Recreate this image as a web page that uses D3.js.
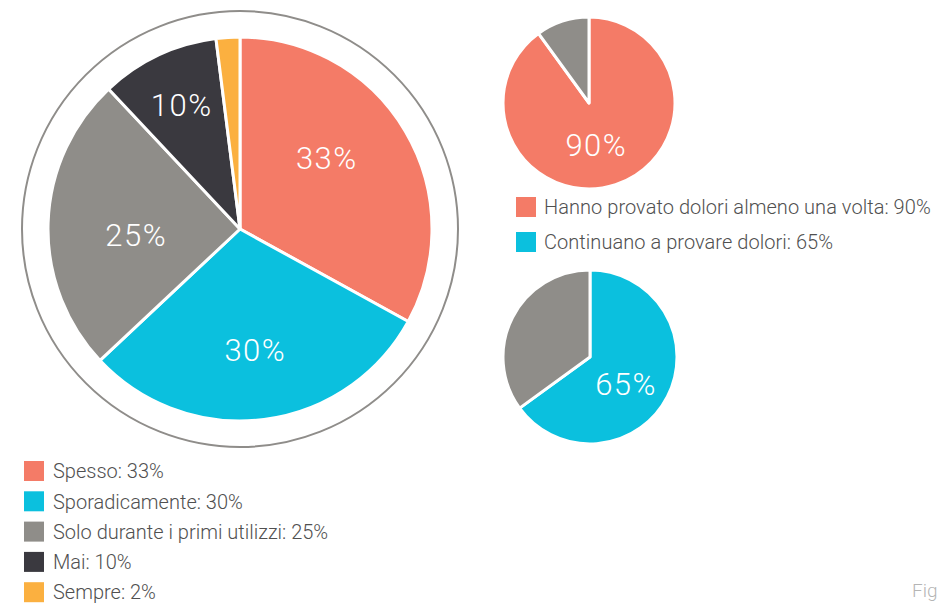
<!DOCTYPE html>
<html>
<head>
<meta charset="utf-8">
<script src="https://cdn.jsdelivr.net/npm/d3@7"></script>
<style>
  body { margin: 0; background: #fff; }
  svg { display: block; font-family: Roboto, "Liberation Sans", sans-serif; font-weight: 300; }
</style>
</head>
<body>
<div id="chart"></div>
<script>
// frequenza dei dolori
const freqCategories = ["Spesso", "Sporadicamente", "Solo durante i primi utilizzi", "Mai", "Sempre"];
const freqValues = [33, 30, 25, 10, 2];
const freqColors = ["#f47b67", "#0bc0de", "#8f8d89", "#3a393f", "#fbb040"];

// piccoli grafici
const everValues = [90, 10];
const stillValues = [65, 35];
const smallCategories = ["Hanno provato dolori almeno una volta", "Continuano a provare dolori"];
const smallColors = ["#f47b67", "#0bc0de", "#8f8d89"];

const width = 939, height = 604;

const svg = d3.select("#chart").append("svg")
	.attr("width", width)
	.attr("height", height);

const pie = d3.pie().sort(null).value(d => d);

// ---- big pie ----
const big = { cx: 240, cy: 229, r: 192, ring: 218 };
const gBig = svg.append("g").attr("transform", "translate(" + big.cx + "," + big.cy + ")");

gBig.append("circle")
	.attr("r", big.ring)
	.attr("fill", "none")
	.attr("stroke", "#8f8d8a")
	.attr("stroke-width", 2);

const bigArc = d3.arc().innerRadius(0).outerRadius(big.r);
const bigArcs = pie(freqValues);

gBig.selectAll("path.slice")
	.data(bigArcs)
	.enter().append("path")
	.attr("class", "slice")
	.attr("d", bigArc)
	.attr("fill", (d, i) => freqColors[i])
	.attr("stroke", "#fff")
	.attr("stroke-width", 3)
	.attr("stroke-linejoin", "round");

// label placement is hand tuned in the original, so nudge a bit per slice
const labelR = [112, 122, 104, 137];
const labelTurn = [-0.15, 0, -0.085, 0];
function labelAngle(d, i) { return (d.startAngle + d.endAngle) / 2 + labelTurn[i]; }

gBig.selectAll("text.lbl")
	.data(bigArcs.filter(d => d.value >= 5))
	.enter().append("text")
	.attr("class", "lbl")
	.attr("x", (d, i) => Math.sin(labelAngle(d, i)) * labelR[i])
	.attr("y", (d, i) => -Math.cos(labelAngle(d, i)) * labelR[i])
	.attr("dy", "0.36em")
	.attr("text-anchor", "middle")
	.attr("fill", "#fff")
	.attr("font-size", 31)
	.attr("letter-spacing", 1.5)
	.text(d => d.value + "%");

// ---- small pies ----
function smallPie(values, colors, cx, cy, r, lr, turn) {
	const g = svg.append("g").attr("transform", "translate(" + cx + "," + cy + ")");
	const arcs = pie(values);
	const arc = d3.arc().innerRadius(0).outerRadius(r);
	g.selectAll("path")
		.data(arcs)
		.enter().append("path")
		.attr("d", arc)
		.attr("fill", (d, i) => colors[i])
		.attr("stroke", "#fff")
		.attr("stroke-width", 3)
		.attr("stroke-linejoin", "round");
	const a = (arcs[0].startAngle + arcs[0].endAngle) / 2 + turn;
	g.append("text")
		.attr("x", Math.sin(a) * lr)
		.attr("y", -Math.cos(a) * lr)
		.attr("dy", "0.36em")
		.attr("text-anchor", "middle")
		.attr("fill", "#fff")
		.attr("font-size", 31)
		.attr("letter-spacing", 1.5)
		.text(values[0] + "%");
}

smallPie(everValues, [smallColors[0], smallColors[2]], 589, 103, 86, 42, 0.14);
smallPie(stillValues, [smallColors[1], smallColors[2]], 590, 357, 87, 45, 0.17);

// ---- legends ----
const legBig = svg.append("g").attr("transform", "translate(24,461)");
const rowsBig = legBig.selectAll("g")
	.data(freqCategories)
	.enter().append("g")
	.attr("transform", (d, i) => "translate(0," + (i * 30.3) + ")");
rowsBig.append("rect")
	.attr("width", 20).attr("height", 20)
	.attr("fill", (d, i) => freqColors[i]);
rowsBig.append("text")
	.attr("x", 29).attr("y", 10)
	.attr("dy", "0.36em")
	.attr("font-size", 20)
	.attr("fill", "#505050")
	.text((d, i) => d + ": " + freqValues[i] + "%");

const legSmall = svg.append("g").attr("transform", "translate(516,197)");
const rowsSmall = legSmall.selectAll("g")
	.data(smallCategories)
	.enter().append("g")
	.attr("transform", (d, i) => "translate(0," + (i * 35) + ")");
rowsSmall.append("rect")
	.attr("width", 20).attr("height", 20)
	.attr("fill", (d, i) => smallColors[i]);
rowsSmall.append("text")
	.attr("x", 28).attr("y", 10)
	.attr("dy", "0.36em")
	.attr("font-size", 20)
	.attr("letter-spacing", 0.05)
	.attr("fill", "#505050")
	.text((d, i) => d + ": " + [everValues[0], stillValues[0]][i] + "%");

svg.append("text")
	.attr("x", 912).attr("y", 597)
	.attr("font-size", 19)
	.attr("fill", "#b5b5b5")
	.text("Fig");
</script>
</body>
</html>
